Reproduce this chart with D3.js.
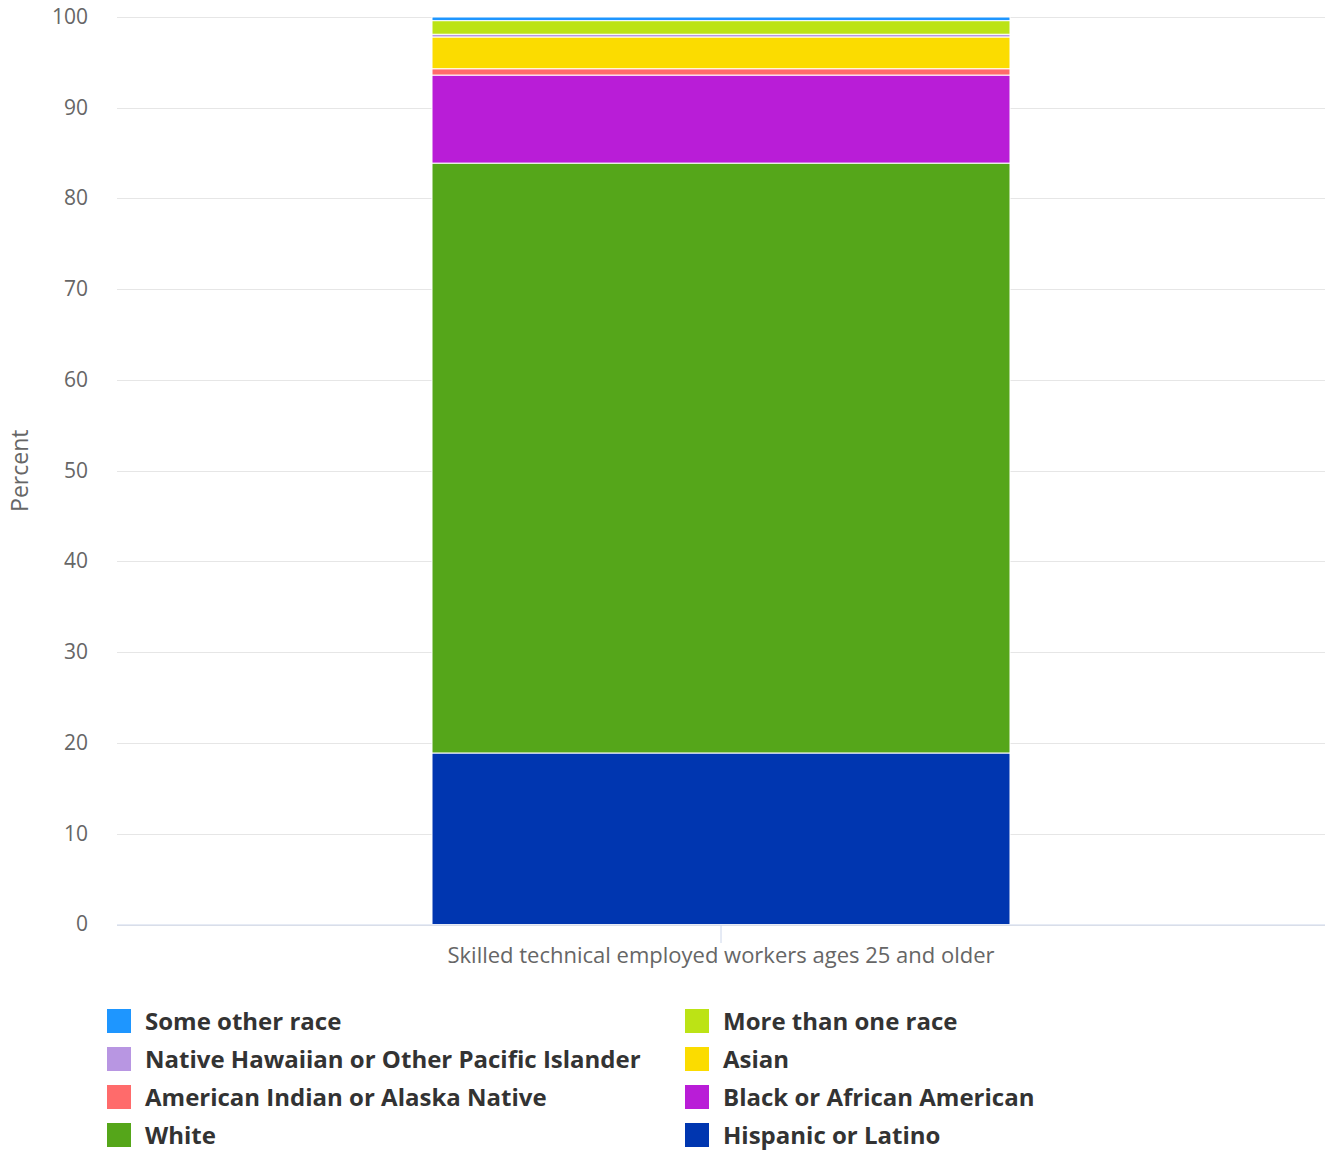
<!DOCTYPE html>
<html>
<head>
<meta charset="utf-8">
<script src="https://cdn.jsdelivr.net/npm/d3@7"></script>
<style>
  body { margin: 0; background: #fff; font-family: "Open Sans", sans-serif; }
</style>
</head>
<body>
<script>
const categorias = ["Skilled technical employed workers ages 25 and older"];
const grupos = ["Hispanic or Latino", "White", "Black or African American",
                "American Indian or Alaska Native", "Asian",
                "Native Hawaiian or Other Pacific Islander", "More than one race",
                "Some other race"];
const valores = [18.9, 65.0, 9.7, 0.7, 3.5, 0.3, 1.5, 0.4];
const cores = ["#0036b0", "#55a61a", "#b91dd7", "#ff6b6b", "#fbdc00",
               "#b896e2", "#bce315", "#1e96ff"];
const yTicks = [0, 10, 20, 30, 40, 50, 60, 70, 80, 90, 100];

const largura = 1327;
const altura = 1152;
const margens = { c: 17, d: 2, b: 227.5, e: 117 };

var svg = d3.select("body")
            .append("svg")
            .attr("width", largura)
            .attr("height", altura);

var xEscala = d3.scaleBand()
                .domain(categorias)
                .range([margens.e, largura - margens.d])
                .paddingInner(0)
                .paddingOuter(0.545);

var yEscala = d3.scaleLinear()
                .domain([0, 100])
                .range([altura - margens.b, margens.c]);

// grade
svg.append("g")
   .selectAll("line")
   .data(yTicks)
   .enter()
   .append("line")
   .attr("x1", margens.e)
   .attr("x2", largura - margens.d)
   .attr("y1", function(d) { return Math.round(yEscala(d)) + 0.5; })
   .attr("y2", function(d) { return Math.round(yEscala(d)) + 0.5; })
   .attr("stroke", "#e6e6e6");

// eixo y
var yEixo = d3.axisLeft(yEscala)
              .tickValues(yTicks)
              .tickSize(0)
              .tickPadding(0);

var gy = svg.append("g")
            .attr("transform", "translate(88, 0)")
            .call(yEixo);
gy.select(".domain").remove();
gy.selectAll("text")
  .attr("font-family", "Open Sans")
  .attr("font-size", 21)
  .attr("fill", "#666")
  .attr("dy", "0.3em");

svg.append("text")
   .attr("transform", "translate(28, " + yEscala(50) + ") rotate(-90)")
   .attr("text-anchor", "middle")
   .attr("font-size", 23)
   .attr("fill", "#666")
   .text("Percent");

// pilhas
var linhas = categorias.map(function(c) {
  var o = { categoria: c };
  grupos.forEach(function(g, i) { o[g] = valores[i]; });
  return o;
});
var pilha = d3.stack().keys(grupos)(linhas);

svg.append("g")
   .selectAll("rect")
   .data(pilha)
   .enter()
   .append("rect")
   .attr("x", function(d) { return xEscala(d[0].data.categoria); })
   .attr("width", xEscala.bandwidth())
   .attr("y", function(d) { return yEscala(d[0][1]); })
   .attr("height", function(d) { return yEscala(d[0][0]) - yEscala(d[0][1]); })
   .attr("fill", function(d, i) { return cores[i]; })
   .attr("stroke", "#fff")
   .attr("stroke-width", 1);

// eixo x
var xEixo = d3.axisBottom(xEscala)
              .tickSize(18)
              .tickPadding(8);

var gx = svg.append("g")
            .attr("transform", "translate(0, " + (yEscala(0) + 0.5) + ")")
            .call(xEixo);
gx.select(".domain")
  .attr("stroke", "#ccd6eb")
  .attr("d", "M" + margens.e + ",0H" + (largura - margens.d));
gx.selectAll(".tick line").attr("stroke", "#ccd6eb");
gx.selectAll("text")
  .attr("font-family", "Open Sans")
  .attr("font-size", 22)
  .attr("fill", "#666")
  .attr("y", 22);

// legenda
var ordemLegenda = grupos.map(function(g, i) { return i; }).reverse();
var legenda = svg.append("g")
                 .selectAll("g")
                 .data(ordemLegenda)
                 .enter()
                 .append("g")
                 .attr("transform", function(d, k) {
                   var col = k % 2, lin = Math.floor(k / 2);
                   return "translate(" + (107 + col * 578) + ", " + (1021 + lin * 38) + ")";
                 });

legenda.append("rect")
       .attr("x", 0)
       .attr("y", -12)
       .attr("width", 24)
       .attr("height", 24)
       .attr("fill", function(d) { return cores[d]; });

legenda.append("text")
       .attr("x", 38)
       .attr("dy", "0.38em")
       .attr("font-size", 24)
       .attr("font-weight", "bold")
       .attr("fill", "#333")
       .text(function(d) { return grupos[d]; });
</script>
</body>
</html>
